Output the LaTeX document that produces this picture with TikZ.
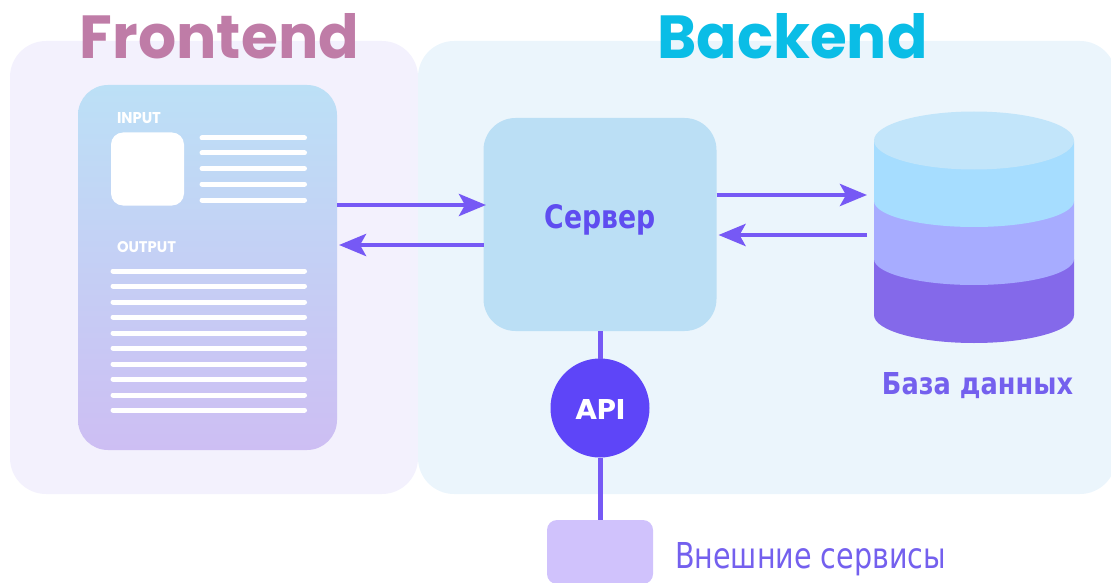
\documentclass[tikz,border=0pt]{standalone}
\usepackage{fontspec}
\usepackage{graphicx}
\setmainfont{Poppins}
\newfontfamily\cyr{DejaVu Sans}
\usetikzlibrary{arrows.meta,calc}
\definecolor{fpanel}{HTML}{F3F1FD}
\definecolor{bpanel}{HTML}{EBF5FC}
\definecolor{cardtop}{HTML}{BCE0F6}
\definecolor{cardbot}{HTML}{CDBEF3}
\definecolor{srv}{HTML}{BBDFF5}
\definecolor{arrowc}{HTML}{7659F5}
\definecolor{apic}{HTML}{5E45F8}
\definecolor{extc}{HTML}{D0C2FC}
\definecolor{txtc}{HTML}{7460EE}
\definecolor{srvtxt}{HTML}{5F4DF0}
\definecolor{dbtop}{HTML}{C2E5FA}
\definecolor{dba}{HTML}{A6DDFF}
\definecolor{dbb}{HTML}{A7ACFF}
\definecolor{dbc}{HTML}{8469EA}
\definecolor{ftitle}{HTML}{BF7CA7}
\definecolor{btitle}{HTML}{0ABDE6}
\newcommand{\fit}[3]{\resizebox{#1pt}{#2pt}{#3}}
\tikzset{
  x=1pt,y=-1pt,
  panel/.style={rounded corners=36pt,fill=#1},
  flow/.style={line width=4.5pt,draw=arrowc,-{Stealth[length=27pt,width=22pt,inset=6pt]}},
  link/.style={line width=5pt,draw=arrowc},
  wline/.style={line width=5pt,draw=white,line cap=round},
  lbl/.style={inner sep=0pt,outer sep=0pt},
}
\begin{document}
\begin{tikzpicture}
\useasboundingbox (0,0) rectangle (1111,583);
\clip (0,0) rectangle (1111,583);
% panels
\fill[panel=fpanel] (10,41) rectangle (418,494);
\fill[panel=bpanel] (418,41) rectangle (1116,494);
% card
\node[lbl,name=card,rounded corners=30pt,top color=cardtop,bottom color=cardbot,minimum width=259pt,minimum height=365pt] at (207.5,267.5) {};
\node[lbl,name=img,rounded corners=12pt,fill=white,minimum width=73pt,minimum height=73pt] at (147.5,169) {};
\foreach \yy in {138,153,168.5,184,200} \draw[wline] (202,\yy) -- (304.5,\yy);
\foreach \yy in {271,286,302,317,333,348,364,379,395,410} \draw[wline] (113,\yy) -- (304.5,\yy);
\node[lbl,anchor=west,white] (input) at (117,118.5) {\fit{44}{11}{\bfseries INPUT}};
\node[lbl,anchor=west,white] (output) at (117,247.5) {\fit{59}{11}{\bfseries OUTPUT}};
% titles
\node[lbl,ftitle] (ft) at (219.5,36.5) {\fit{279}{45}{\bfseries Frontend}};
\node[lbl,btitle] (bt) at (792.5,36.5) {\fit{270}{45}{\bfseries Backend}};
% server
\node[lbl,name=server,rounded corners=32pt,fill=srv,minimum width=233pt,minimum height=213pt] at (600,224.5) {};
\node[lbl,srvtxt] (srvtext) at (600,220) {\fit{111}{24}{\cyr\bfseries Сервер}};
% database
\fill[dbc] (874,315) arc[start angle=180,end angle=360,x radius=100,y radius=-28] -- (1074,259) -- (874,259) -- cycle;
\fill[dbb] (874,259) arc[start angle=180,end angle=360,x radius=100,y radius=-26] -- (1074,201) -- (874,201) -- cycle;
\fill[dba] (874,201) arc[start angle=180,end angle=360,x radius=100,y radius=-26] -- (1074,141) -- (874,141) -- cycle;
\fill[dbtop] (974,140.5) ellipse[x radius=100,y radius=29];
\node[lbl,name=db,minimum width=200pt,minimum height=232pt] at (974,228) {};
\node[lbl,txtc] (dbtext) at (977.5,385.5) {\fit{191}{22}{\cyr\bfseries База данных}};
% flows
\draw[flow] ([yshift=62.5pt]card.east) -- ([yshift=19.5pt,xshift=2.5pt]server.west);
\draw[flow] ([yshift=-20.5pt]server.west) -- ([yshift=22.5pt,xshift=2pt]card.east);
\draw[flow] ([yshift=29.5pt]server.east) -- ([yshift=33pt,xshift=-7pt]db.west);
\draw[flow] ([yshift=-7pt,xshift=-7pt]db.west) -- ([yshift=-10.5pt,xshift=2pt]server.east);
% api
\node[lbl,name=api,circle,fill=apic,minimum size=99pt] at (600,408) {};
\node[lbl,white] (apitext) at (600,409) {\fit{50}{20}{\bfseries API}};
\node[lbl,name=ext,rounded corners=10pt,fill=extc,minimum width=106pt,minimum height=64pt] at (600,552) {};
\draw[link] (server.south) -- (api.north);
\draw[link] (api.south) -- (ext.north);
\node[lbl,anchor=west,txtc] (exttext) at (675,559.5) {\fit{271}{26}{\cyr Внешние сервисы}};
\end{tikzpicture}
\end{document}
